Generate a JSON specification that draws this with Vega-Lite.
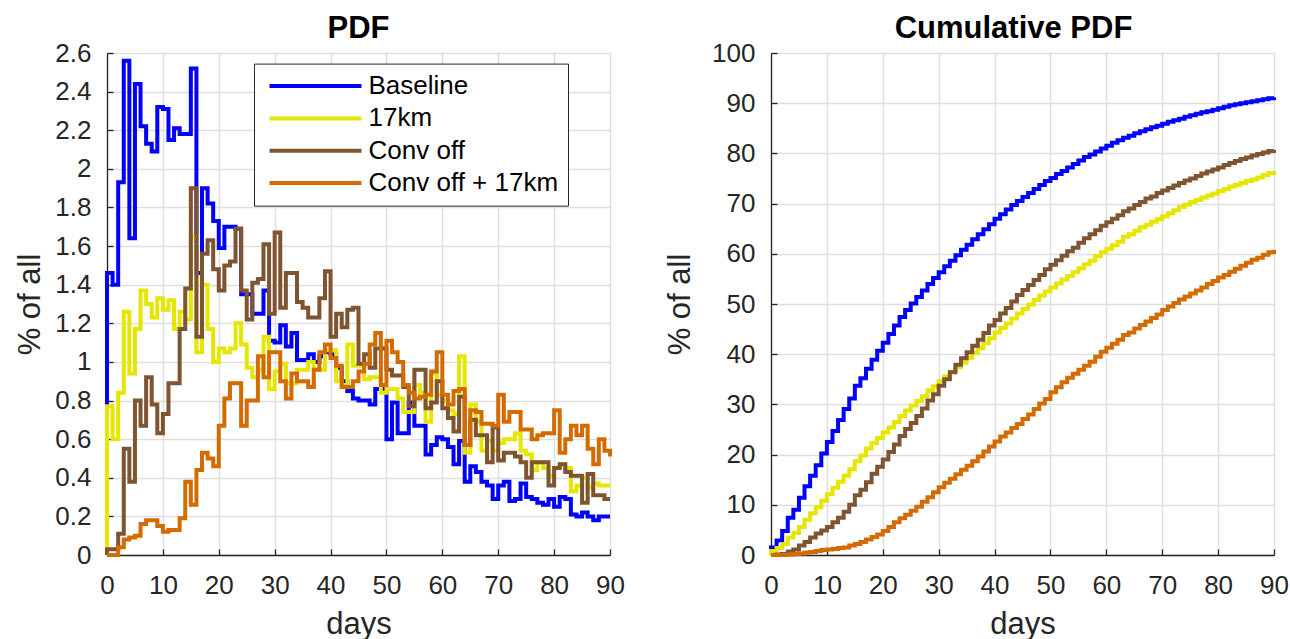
{
"$schema": "https://vega.github.io/schema/vega-lite/v6.json",
"background": "white",
"padding": {"left": 14, "top": 13, "right": 5, "bottom": 0},
"spacing": 39,
"config": {
  "view": {"stroke": null},
  "font": "Liberation Sans",
  "axis": {"domainColor": "#262626", "domainWidth": 1.3, "tickColor": "#262626", "tickWidth": 1.3, "tickSize": -6, "gridColor": "#dfdfdf", "gridWidth": 1.5, "labelFont": "Liberation Sans", "labelFontSize": 26, "labelColor": "#262626", "labelFlush": false, "labelOverlap": false, "titleFont": "Liberation Sans", "titleFontSize": 31, "titleFontWeight": "normal", "titleColor": "#262626"},
  "axisX": {"labelPadding": 23, "titlePadding": 11},
  "axisY": {"labelPadding": 22, "titlePadding": 8},
  "title": {"font": "Liberation Sans", "fontSize": 31, "fontWeight": "bold", "color": "#000000", "offset": -5, "anchor": "middle"},
  "line": {"strokeWidth": 4, "interpolate": "step-after", "strokeJoin": "miter"}
},
"datasets": {
"pdf": [
{"day":0,"run":"Baseline","pct":0},{"day":0,"run":"Baseline","pct":1.46},{"day":1,"run":"Baseline","pct":1.40},{"day":2,"run":"Baseline","pct":1.93},{"day":3,"run":"Baseline","pct":2.56},{"day":4,"run":"Baseline","pct":1.64},{"day":5,"run":"Baseline","pct":2.44},{"day":6,"run":"Baseline","pct":2.22},{"day":7,"run":"Baseline","pct":2.13},{"day":8,"run":"Baseline","pct":2.09},{"day":9,"run":"Baseline","pct":2.32},
{"day":10,"run":"Baseline","pct":2.31},{"day":11,"run":"Baseline","pct":2.15},{"day":12,"run":"Baseline","pct":2.21},{"day":13,"run":"Baseline","pct":2.18},{"day":14,"run":"Baseline","pct":2.18},{"day":15,"run":"Baseline","pct":2.52},{"day":16,"run":"Baseline","pct":1.46},{"day":17,"run":"Baseline","pct":1.90},{"day":18,"run":"Baseline","pct":1.82},{"day":19,"run":"Baseline","pct":1.73},
{"day":20,"run":"Baseline","pct":1.59},{"day":21,"run":"Baseline","pct":1.70},{"day":22,"run":"Baseline","pct":1.70},{"day":23,"run":"Baseline","pct":1.69},{"day":24,"run":"Baseline","pct":1.35},{"day":25,"run":"Baseline","pct":1.35},{"day":26,"run":"Baseline","pct":1.25},{"day":27,"run":"Baseline","pct":1.25},{"day":28,"run":"Baseline","pct":1.37},{"day":29,"run":"Baseline","pct":1.11},
{"day":30,"run":"Baseline","pct":1.10},{"day":31,"run":"Baseline","pct":1.19},{"day":32,"run":"Baseline","pct":1.08},{"day":33,"run":"Baseline","pct":1.15},{"day":34,"run":"Baseline","pct":1.01},{"day":35,"run":"Baseline","pct":1.01},{"day":36,"run":"Baseline","pct":1.04},{"day":37,"run":"Baseline","pct":1.00},{"day":38,"run":"Baseline","pct":1.03},{"day":39,"run":"Baseline","pct":1.05},
{"day":40,"run":"Baseline","pct":1.04},{"day":41,"run":"Baseline","pct":0.97},{"day":42,"run":"Baseline","pct":0.90},{"day":43,"run":"Baseline","pct":0.85},{"day":44,"run":"Baseline","pct":0.81},{"day":45,"run":"Baseline","pct":0.80},{"day":46,"run":"Baseline","pct":0.80},{"day":47,"run":"Baseline","pct":0.78},{"day":48,"run":"Baseline","pct":0.86},{"day":49,"run":"Baseline","pct":0.86},
{"day":50,"run":"Baseline","pct":0.60},{"day":51,"run":"Baseline","pct":0.79},{"day":52,"run":"Baseline","pct":0.63},{"day":53,"run":"Baseline","pct":0.63},{"day":54,"run":"Baseline","pct":0.79},{"day":55,"run":"Baseline","pct":0.67},{"day":56,"run":"Baseline","pct":0.67},{"day":57,"run":"Baseline","pct":0.52},{"day":58,"run":"Baseline","pct":0.57},{"day":59,"run":"Baseline","pct":0.61},
{"day":60,"run":"Baseline","pct":0.60},{"day":61,"run":"Baseline","pct":0.56},{"day":62,"run":"Baseline","pct":0.47},{"day":63,"run":"Baseline","pct":0.59},{"day":64,"run":"Baseline","pct":0.38},{"day":65,"run":"Baseline","pct":0.46},{"day":66,"run":"Baseline","pct":0.43},{"day":67,"run":"Baseline","pct":0.38},{"day":68,"run":"Baseline","pct":0.36},{"day":69,"run":"Baseline","pct":0.29},
{"day":70,"run":"Baseline","pct":0.36},{"day":71,"run":"Baseline","pct":0.38},{"day":72,"run":"Baseline","pct":0.28},{"day":73,"run":"Baseline","pct":0.29},{"day":74,"run":"Baseline","pct":0.37},{"day":75,"run":"Baseline","pct":0.30},{"day":76,"run":"Baseline","pct":0.29},{"day":77,"run":"Baseline","pct":0.27},{"day":78,"run":"Baseline","pct":0.26},{"day":79,"run":"Baseline","pct":0.29},
{"day":80,"run":"Baseline","pct":0.25},{"day":81,"run":"Baseline","pct":0.30},{"day":82,"run":"Baseline","pct":0.29},{"day":83,"run":"Baseline","pct":0.21},{"day":84,"run":"Baseline","pct":0.20},{"day":85,"run":"Baseline","pct":0.22},{"day":86,"run":"Baseline","pct":0.20},{"day":87,"run":"Baseline","pct":0.18},{"day":88,"run":"Baseline","pct":0.20},{"day":89,"run":"Baseline","pct":0.20},{"day":90,"run":"Baseline","pct":0.20},

{"day":0,"run":"17km","pct":0},{"day":0,"run":"17km","pct":0.77},{"day":1,"run":"17km","pct":0.60},{"day":2,"run":"17km","pct":0.84},{"day":3,"run":"17km","pct":1.26},{"day":4,"run":"17km","pct":0.94},{"day":5,"run":"17km","pct":1.17},{"day":6,"run":"17km","pct":1.37},{"day":7,"run":"17km","pct":1.30},{"day":8,"run":"17km","pct":1.23},{"day":9,"run":"17km","pct":1.33},
{"day":10,"run":"17km","pct":1.27},{"day":11,"run":"17km","pct":1.32},{"day":12,"run":"17km","pct":1.17},{"day":13,"run":"17km","pct":1.26},{"day":14,"run":"17km","pct":1.22},{"day":15,"run":"17km","pct":1.65},{"day":16,"run":"17km","pct":1.05},{"day":17,"run":"17km","pct":1.40},{"day":18,"run":"17km","pct":1.17},{"day":19,"run":"17km","pct":1.00},
{"day":20,"run":"17km","pct":1.07},{"day":21,"run":"17km","pct":1.05},{"day":22,"run":"17km","pct":1.07},{"day":23,"run":"17km","pct":1.20},{"day":24,"run":"17km","pct":1.09},{"day":25,"run":"17km","pct":0.97},{"day":26,"run":"17km","pct":0.92},{"day":27,"run":"17km","pct":0.96},{"day":28,"run":"17km","pct":1.13},{"day":29,"run":"17km","pct":0.86},
{"day":30,"run":"17km","pct":0.95},{"day":31,"run":"17km","pct":0.99},{"day":32,"run":"17km","pct":0.89},{"day":33,"run":"17km","pct":0.89},{"day":34,"run":"17km","pct":0.96},{"day":35,"run":"17km","pct":0.96},{"day":36,"run":"17km","pct":1.00},{"day":37,"run":"17km","pct":0.96},{"day":38,"run":"17km","pct":0.96},{"day":39,"run":"17km","pct":1.06},
{"day":40,"run":"17km","pct":1.06},{"day":41,"run":"17km","pct":0.90},{"day":42,"run":"17km","pct":0.88},{"day":43,"run":"17km","pct":1.09},{"day":44,"run":"17km","pct":0.98},{"day":45,"run":"17km","pct":0.98},{"day":46,"run":"17km","pct":0.91},{"day":47,"run":"17km","pct":0.92},{"day":48,"run":"17km","pct":0.92},{"day":49,"run":"17km","pct":0.84},
{"day":50,"run":"17km","pct":0.86},{"day":51,"run":"17km","pct":0.86},{"day":52,"run":"17km","pct":0.81},{"day":53,"run":"17km","pct":0.74},{"day":54,"run":"17km","pct":0.74},{"day":55,"run":"17km","pct":0.88},{"day":56,"run":"17km","pct":0.84},{"day":57,"run":"17km","pct":0.69},{"day":58,"run":"17km","pct":0.94},{"day":59,"run":"17km","pct":0.83},
{"day":60,"run":"17km","pct":0.80},{"day":61,"run":"17km","pct":0.75},{"day":62,"run":"17km","pct":0.73},{"day":63,"run":"17km","pct":1.03},{"day":64,"run":"17km","pct":0.53},{"day":65,"run":"17km","pct":0.78},{"day":66,"run":"17km","pct":0.69},{"day":67,"run":"17km","pct":0.54},{"day":68,"run":"17km","pct":0.59},{"day":69,"run":"17km","pct":0.54},
{"day":70,"run":"17km","pct":0.58},{"day":71,"run":"17km","pct":0.60},{"day":72,"run":"17km","pct":0.60},{"day":73,"run":"17km","pct":0.63},{"day":74,"run":"17km","pct":0.54},{"day":75,"run":"17km","pct":0.52},{"day":76,"run":"17km","pct":0.44},{"day":77,"run":"17km","pct":0.48},{"day":78,"run":"17km","pct":0.45},{"day":79,"run":"17km","pct":0.41},
{"day":80,"run":"17km","pct":0.45},{"day":81,"run":"17km","pct":0.47},{"day":82,"run":"17km","pct":0.45},{"day":83,"run":"17km","pct":0.33},{"day":84,"run":"17km","pct":0.36},{"day":85,"run":"17km","pct":0.40},{"day":86,"run":"17km","pct":0.35},{"day":87,"run":"17km","pct":0.37},{"day":88,"run":"17km","pct":0.36},{"day":89,"run":"17km","pct":0.36},{"day":90,"run":"17km","pct":0.36},

{"day":0,"run":"Conv off","pct":0},{"day":0,"run":"Conv off","pct":0.03},{"day":1,"run":"Conv off","pct":0.03},{"day":2,"run":"Conv off","pct":0.11},{"day":3,"run":"Conv off","pct":0.55},{"day":4,"run":"Conv off","pct":0.38},{"day":5,"run":"Conv off","pct":0.80},{"day":6,"run":"Conv off","pct":0.67},{"day":7,"run":"Conv off","pct":0.92},{"day":8,"run":"Conv off","pct":0.78},{"day":9,"run":"Conv off","pct":0.63},
{"day":10,"run":"Conv off","pct":0.73},{"day":11,"run":"Conv off","pct":0.89},{"day":12,"run":"Conv off","pct":0.89},{"day":13,"run":"Conv off","pct":1.17},{"day":14,"run":"Conv off","pct":1.38},{"day":15,"run":"Conv off","pct":1.90},{"day":16,"run":"Conv off","pct":1.13},{"day":17,"run":"Conv off","pct":1.56},{"day":18,"run":"Conv off","pct":1.63},{"day":19,"run":"Conv off","pct":1.48},
{"day":20,"run":"Conv off","pct":1.37},{"day":21,"run":"Conv off","pct":1.50},{"day":22,"run":"Conv off","pct":1.52},{"day":23,"run":"Conv off","pct":1.69},{"day":24,"run":"Conv off","pct":1.37},{"day":25,"run":"Conv off","pct":1.22},{"day":26,"run":"Conv off","pct":1.41},{"day":27,"run":"Conv off","pct":1.43},{"day":28,"run":"Conv off","pct":1.61},{"day":29,"run":"Conv off","pct":1.25},
{"day":30,"run":"Conv off","pct":1.67},{"day":31,"run":"Conv off","pct":1.28},{"day":32,"run":"Conv off","pct":1.46},{"day":33,"run":"Conv off","pct":1.46},{"day":34,"run":"Conv off","pct":1.31},{"day":35,"run":"Conv off","pct":1.28},{"day":36,"run":"Conv off","pct":1.23},{"day":37,"run":"Conv off","pct":1.23},{"day":38,"run":"Conv off","pct":1.33},{"day":39,"run":"Conv off","pct":1.47},
{"day":40,"run":"Conv off","pct":1.13},{"day":41,"run":"Conv off","pct":1.25},{"day":42,"run":"Conv off","pct":1.18},{"day":43,"run":"Conv off","pct":1.27},{"day":44,"run":"Conv off","pct":1.28},{"day":45,"run":"Conv off","pct":0.99},{"day":46,"run":"Conv off","pct":1.04},{"day":47,"run":"Conv off","pct":0.97},{"day":48,"run":"Conv off","pct":1.07},{"day":49,"run":"Conv off","pct":1.07},
{"day":50,"run":"Conv off","pct":0.96},{"day":51,"run":"Conv off","pct":0.93},{"day":52,"run":"Conv off","pct":0.93},{"day":53,"run":"Conv off","pct":0.87},{"day":54,"run":"Conv off","pct":0.77},{"day":55,"run":"Conv off","pct":0.96},{"day":56,"run":"Conv off","pct":0.96},{"day":57,"run":"Conv off","pct":0.76},{"day":58,"run":"Conv off","pct":0.79},{"day":59,"run":"Conv off","pct":0.90},
{"day":60,"run":"Conv off","pct":0.76},{"day":61,"run":"Conv off","pct":0.71},{"day":62,"run":"Conv off","pct":0.64},{"day":63,"run":"Conv off","pct":0.82},{"day":64,"run":"Conv off","pct":0.57},{"day":65,"run":"Conv off","pct":0.70},{"day":66,"run":"Conv off","pct":0.62},{"day":67,"run":"Conv off","pct":0.62},{"day":68,"run":"Conv off","pct":0.48},{"day":69,"run":"Conv off","pct":0.66},
{"day":70,"run":"Conv off","pct":0.49},{"day":71,"run":"Conv off","pct":0.53},{"day":72,"run":"Conv off","pct":0.53},{"day":73,"run":"Conv off","pct":0.51},{"day":74,"run":"Conv off","pct":0.48},{"day":75,"run":"Conv off","pct":0.40},{"day":76,"run":"Conv off","pct":0.48},{"day":77,"run":"Conv off","pct":0.48},{"day":78,"run":"Conv off","pct":0.48},{"day":79,"run":"Conv off","pct":0.36},
{"day":80,"run":"Conv off","pct":0.45},{"day":81,"run":"Conv off","pct":0.47},{"day":82,"run":"Conv off","pct":0.43},{"day":83,"run":"Conv off","pct":0.41},{"day":84,"run":"Conv off","pct":0.41},{"day":85,"run":"Conv off","pct":0.27},{"day":86,"run":"Conv off","pct":0.42},{"day":87,"run":"Conv off","pct":0.31},{"day":88,"run":"Conv off","pct":0.31},{"day":89,"run":"Conv off","pct":0.29},{"day":90,"run":"Conv off","pct":0.29},

{"day":0,"run":"Conv off + 17km","pct":0},{"day":0,"run":"Conv off + 17km","pct":0},{"day":1,"run":"Conv off + 17km","pct":0},{"day":2,"run":"Conv off + 17km","pct":0.04},{"day":3,"run":"Conv off + 17km","pct":0.08},{"day":4,"run":"Conv off + 17km","pct":0.09},{"day":5,"run":"Conv off + 17km","pct":0.10},{"day":6,"run":"Conv off + 17km","pct":0.16},{"day":7,"run":"Conv off + 17km","pct":0.18},{"day":8,"run":"Conv off + 17km","pct":0.18},{"day":9,"run":"Conv off + 17km","pct":0.15},
{"day":10,"run":"Conv off + 17km","pct":0.12},{"day":11,"run":"Conv off + 17km","pct":0.13},{"day":12,"run":"Conv off + 17km","pct":0.13},{"day":13,"run":"Conv off + 17km","pct":0.19},{"day":14,"run":"Conv off + 17km","pct":0.38},{"day":15,"run":"Conv off + 17km","pct":0.26},{"day":16,"run":"Conv off + 17km","pct":0.44},{"day":17,"run":"Conv off + 17km","pct":0.53},{"day":18,"run":"Conv off + 17km","pct":0.50},{"day":19,"run":"Conv off + 17km","pct":0.46},
{"day":20,"run":"Conv off + 17km","pct":0.67},{"day":21,"run":"Conv off + 17km","pct":0.81},{"day":22,"run":"Conv off + 17km","pct":0.89},{"day":23,"run":"Conv off + 17km","pct":0.89},{"day":24,"run":"Conv off + 17km","pct":0.67},{"day":25,"run":"Conv off + 17km","pct":0.80},{"day":26,"run":"Conv off + 17km","pct":0.80},{"day":27,"run":"Conv off + 17km","pct":1.03},{"day":28,"run":"Conv off + 17km","pct":0.92},{"day":29,"run":"Conv off + 17km","pct":1.05},
{"day":30,"run":"Conv off + 17km","pct":1.05},{"day":31,"run":"Conv off + 17km","pct":0.90},{"day":32,"run":"Conv off + 17km","pct":0.81},{"day":33,"run":"Conv off + 17km","pct":0.94},{"day":34,"run":"Conv off + 17km","pct":0.90},{"day":35,"run":"Conv off + 17km","pct":0.90},{"day":36,"run":"Conv off + 17km","pct":0.87},{"day":37,"run":"Conv off + 17km","pct":0.96},{"day":38,"run":"Conv off + 17km","pct":1.05},{"day":39,"run":"Conv off + 17km","pct":1.09},
{"day":40,"run":"Conv off + 17km","pct":1.02},{"day":41,"run":"Conv off + 17km","pct":0.98},{"day":42,"run":"Conv off + 17km","pct":0.87},{"day":43,"run":"Conv off + 17km","pct":0.87},{"day":44,"run":"Conv off + 17km","pct":0.90},{"day":45,"run":"Conv off + 17km","pct":0.95},{"day":46,"run":"Conv off + 17km","pct":0.99},{"day":47,"run":"Conv off + 17km","pct":1.09},{"day":48,"run":"Conv off + 17km","pct":1.15},{"day":49,"run":"Conv off + 17km","pct":0.88},
{"day":50,"run":"Conv off + 17km","pct":1.11},{"day":51,"run":"Conv off + 17km","pct":1.05},{"day":52,"run":"Conv off + 17km","pct":1.00},{"day":53,"run":"Conv off + 17km","pct":0.88},{"day":54,"run":"Conv off + 17km","pct":0.84},{"day":55,"run":"Conv off + 17km","pct":0.81},{"day":56,"run":"Conv off + 17km","pct":0.82},{"day":57,"run":"Conv off + 17km","pct":0.83},{"day":58,"run":"Conv off + 17km","pct":0.95},{"day":59,"run":"Conv off + 17km","pct":1.05},
{"day":60,"run":"Conv off + 17km","pct":0.83},{"day":61,"run":"Conv off + 17km","pct":0.78},{"day":62,"run":"Conv off + 17km","pct":0.85},{"day":63,"run":"Conv off + 17km","pct":0.86},{"day":64,"run":"Conv off + 17km","pct":0.57},{"day":65,"run":"Conv off + 17km","pct":0.75},{"day":66,"run":"Conv off + 17km","pct":0.74},{"day":67,"run":"Conv off + 17km","pct":0.68},{"day":68,"run":"Conv off + 17km","pct":0.68},{"day":69,"run":"Conv off + 17km","pct":0.67},
{"day":70,"run":"Conv off + 17km","pct":0.83},{"day":71,"run":"Conv off + 17km","pct":0.69},{"day":72,"run":"Conv off + 17km","pct":0.74},{"day":73,"run":"Conv off + 17km","pct":0.74},{"day":74,"run":"Conv off + 17km","pct":0.65},{"day":75,"run":"Conv off + 17km","pct":0.65},{"day":76,"run":"Conv off + 17km","pct":0.60},{"day":77,"run":"Conv off + 17km","pct":0.62},{"day":78,"run":"Conv off + 17km","pct":0.63},{"day":79,"run":"Conv off + 17km","pct":0.63},
{"day":80,"run":"Conv off + 17km","pct":0.75},{"day":81,"run":"Conv off + 17km","pct":0.53},{"day":82,"run":"Conv off + 17km","pct":0.60},{"day":83,"run":"Conv off + 17km","pct":0.67},{"day":84,"run":"Conv off + 17km","pct":0.62},{"day":85,"run":"Conv off + 17km","pct":0.67},{"day":86,"run":"Conv off + 17km","pct":0.55},{"day":87,"run":"Conv off + 17km","pct":0.47},{"day":88,"run":"Conv off + 17km","pct":0.60},{"day":89,"run":"Conv off + 17km","pct":0.54},{"day":90,"run":"Conv off + 17km","pct":0.51}
],
"cdf": [
{"day":0,"run":"Baseline","pct":0},{"day":0,"run":"Baseline","pct":1.5},{"day":1,"run":"Baseline","pct":2.9},{"day":2,"run":"Baseline","pct":4.8},{"day":3,"run":"Baseline","pct":7.4},{"day":4,"run":"Baseline","pct":9.0},{"day":5,"run":"Baseline","pct":11.4},{"day":6,"run":"Baseline","pct":13.7},{"day":7,"run":"Baseline","pct":15.8},{"day":8,"run":"Baseline","pct":17.9},{"day":9,"run":"Baseline","pct":20.2},
{"day":10,"run":"Baseline","pct":22.5},{"day":11,"run":"Baseline","pct":24.7},{"day":12,"run":"Baseline","pct":26.9},{"day":13,"run":"Baseline","pct":29.1},{"day":14,"run":"Baseline","pct":31.2},{"day":15,"run":"Baseline","pct":33.7},{"day":16,"run":"Baseline","pct":35.2},{"day":17,"run":"Baseline","pct":37.1},{"day":18,"run":"Baseline","pct":38.9},{"day":19,"run":"Baseline","pct":40.7},
{"day":20,"run":"Baseline","pct":42.3},{"day":21,"run":"Baseline","pct":44.0},{"day":22,"run":"Baseline","pct":45.7},{"day":23,"run":"Baseline","pct":47.4},{"day":24,"run":"Baseline","pct":48.8},{"day":25,"run":"Baseline","pct":50.1},{"day":26,"run":"Baseline","pct":51.4},{"day":27,"run":"Baseline","pct":52.7},{"day":28,"run":"Baseline","pct":54.0},{"day":29,"run":"Baseline","pct":55.2},
{"day":30,"run":"Baseline","pct":56.3},{"day":31,"run":"Baseline","pct":57.5},{"day":32,"run":"Baseline","pct":58.6},{"day":33,"run":"Baseline","pct":59.7},{"day":34,"run":"Baseline","pct":60.8},{"day":35,"run":"Baseline","pct":61.8},{"day":36,"run":"Baseline","pct":62.9},{"day":37,"run":"Baseline","pct":63.9},{"day":38,"run":"Baseline","pct":64.9},{"day":39,"run":"Baseline","pct":65.9},
{"day":40,"run":"Baseline","pct":67.0},{"day":41,"run":"Baseline","pct":67.9},{"day":42,"run":"Baseline","pct":68.8},{"day":43,"run":"Baseline","pct":69.7},{"day":44,"run":"Baseline","pct":70.5},{"day":45,"run":"Baseline","pct":71.3},{"day":46,"run":"Baseline","pct":72.1},{"day":47,"run":"Baseline","pct":72.9},{"day":48,"run":"Baseline","pct":73.7},{"day":49,"run":"Baseline","pct":74.5},
{"day":50,"run":"Baseline","pct":75.1},{"day":51,"run":"Baseline","pct":75.9},{"day":52,"run":"Baseline","pct":76.5},{"day":53,"run":"Baseline","pct":77.2},{"day":54,"run":"Baseline","pct":77.9},{"day":55,"run":"Baseline","pct":78.6},{"day":56,"run":"Baseline","pct":79.3},{"day":57,"run":"Baseline","pct":79.8},{"day":58,"run":"Baseline","pct":80.4},{"day":59,"run":"Baseline","pct":81.0},
{"day":60,"run":"Baseline","pct":81.5},{"day":61,"run":"Baseline","pct":82.1},{"day":62,"run":"Baseline","pct":82.6},{"day":63,"run":"Baseline","pct":83.1},{"day":64,"run":"Baseline","pct":83.5},{"day":65,"run":"Baseline","pct":84.0},{"day":66,"run":"Baseline","pct":84.4},{"day":67,"run":"Baseline","pct":84.8},{"day":68,"run":"Baseline","pct":85.2},{"day":69,"run":"Baseline","pct":85.5},
{"day":70,"run":"Baseline","pct":85.9},{"day":71,"run":"Baseline","pct":86.3},{"day":72,"run":"Baseline","pct":86.6},{"day":73,"run":"Baseline","pct":86.9},{"day":74,"run":"Baseline","pct":87.3},{"day":75,"run":"Baseline","pct":87.6},{"day":76,"run":"Baseline","pct":87.9},{"day":77,"run":"Baseline","pct":88.2},{"day":78,"run":"Baseline","pct":88.4},{"day":79,"run":"Baseline","pct":88.7},
{"day":80,"run":"Baseline","pct":89.0},{"day":81,"run":"Baseline","pct":89.3},{"day":82,"run":"Baseline","pct":89.6},{"day":83,"run":"Baseline","pct":89.8},{"day":84,"run":"Baseline","pct":90.0},{"day":85,"run":"Baseline","pct":90.2},{"day":86,"run":"Baseline","pct":90.4},{"day":87,"run":"Baseline","pct":90.6},{"day":88,"run":"Baseline","pct":90.8},{"day":89,"run":"Baseline","pct":91.0},{"day":90,"run":"Baseline","pct":91.2},

{"day":0,"run":"17km","pct":0},{"day":0,"run":"17km","pct":0.8},{"day":1,"run":"17km","pct":1.4},{"day":2,"run":"17km","pct":2.2},{"day":3,"run":"17km","pct":3.5},{"day":4,"run":"17km","pct":4.4},{"day":5,"run":"17km","pct":5.6},{"day":6,"run":"17km","pct":7.0},{"day":7,"run":"17km","pct":8.3},{"day":8,"run":"17km","pct":9.5},{"day":9,"run":"17km","pct":10.8},
{"day":10,"run":"17km","pct":12.1},{"day":11,"run":"17km","pct":13.4},{"day":12,"run":"17km","pct":14.6},{"day":13,"run":"17km","pct":15.8},{"day":14,"run":"17km","pct":17.1},{"day":15,"run":"17km","pct":18.7},{"day":16,"run":"17km","pct":19.8},{"day":17,"run":"17km","pct":21.2},{"day":18,"run":"17km","pct":22.3},{"day":19,"run":"17km","pct":23.3},
{"day":20,"run":"17km","pct":24.4},{"day":21,"run":"17km","pct":25.4},{"day":22,"run":"17km","pct":26.5},{"day":23,"run":"17km","pct":27.7},{"day":24,"run":"17km","pct":28.8},{"day":25,"run":"17km","pct":29.8},{"day":26,"run":"17km","pct":30.7},{"day":27,"run":"17km","pct":31.6},{"day":28,"run":"17km","pct":32.8},{"day":29,"run":"17km","pct":33.6},
{"day":30,"run":"17km","pct":34.6},{"day":31,"run":"17km","pct":35.6},{"day":32,"run":"17km","pct":36.5},{"day":33,"run":"17km","pct":37.4},{"day":34,"run":"17km","pct":38.3},{"day":35,"run":"17km","pct":39.3},{"day":36,"run":"17km","pct":40.3},{"day":37,"run":"17km","pct":41.2},{"day":38,"run":"17km","pct":42.2},{"day":39,"run":"17km","pct":43.2},
{"day":40,"run":"17km","pct":44.3},{"day":41,"run":"17km","pct":45.2},{"day":42,"run":"17km","pct":46.1},{"day":43,"run":"17km","pct":47.1},{"day":44,"run":"17km","pct":48.1},{"day":45,"run":"17km","pct":49.0},{"day":46,"run":"17km","pct":49.9},{"day":47,"run":"17km","pct":50.8},{"day":48,"run":"17km","pct":51.7},{"day":49,"run":"17km","pct":52.5},
{"day":50,"run":"17km","pct":53.3},{"day":51,"run":"17km","pct":54.1},{"day":52,"run":"17km","pct":54.9},{"day":53,"run":"17km","pct":55.6},{"day":54,"run":"17km","pct":56.3},{"day":55,"run":"17km","pct":57.1},{"day":56,"run":"17km","pct":57.9},{"day":57,"run":"17km","pct":58.6},{"day":58,"run":"17km","pct":59.5},{"day":59,"run":"17km","pct":60.3},
{"day":60,"run":"17km","pct":61.0},{"day":61,"run":"17km","pct":61.7},{"day":62,"run":"17km","pct":62.4},{"day":63,"run":"17km","pct":63.4},{"day":64,"run":"17km","pct":63.9},{"day":65,"run":"17km","pct":64.6},{"day":66,"run":"17km","pct":65.3},{"day":67,"run":"17km","pct":65.8},{"day":68,"run":"17km","pct":66.4},{"day":69,"run":"17km","pct":66.9},
{"day":70,"run":"17km","pct":67.5},{"day":71,"run":"17km","pct":68.1},{"day":72,"run":"17km","pct":68.7},{"day":73,"run":"17km","pct":69.3},{"day":74,"run":"17km","pct":69.8},{"day":75,"run":"17km","pct":70.3},{"day":76,"run":"17km","pct":70.7},{"day":77,"run":"17km","pct":71.2},{"day":78,"run":"17km","pct":71.6},{"day":79,"run":"17km","pct":72.0},
{"day":80,"run":"17km","pct":72.5},{"day":81,"run":"17km","pct":72.9},{"day":82,"run":"17km","pct":73.4},{"day":83,"run":"17km","pct":73.7},{"day":84,"run":"17km","pct":74.1},{"day":85,"run":"17km","pct":74.5},{"day":86,"run":"17km","pct":74.8},{"day":87,"run":"17km","pct":75.2},{"day":88,"run":"17km","pct":75.7},{"day":89,"run":"17km","pct":76.1},{"day":90,"run":"17km","pct":76.5},

{"day":0,"run":"Conv off","pct":0},{"day":0,"run":"Conv off","pct":0.0},{"day":1,"run":"Conv off","pct":0.1},{"day":2,"run":"Conv off","pct":0.2},{"day":3,"run":"Conv off","pct":0.7},{"day":4,"run":"Conv off","pct":1.1},{"day":5,"run":"Conv off","pct":1.9},{"day":6,"run":"Conv off","pct":2.6},{"day":7,"run":"Conv off","pct":3.5},{"day":8,"run":"Conv off","pct":4.3},{"day":9,"run":"Conv off","pct":4.9},
{"day":10,"run":"Conv off","pct":5.6},{"day":11,"run":"Conv off","pct":6.5},{"day":12,"run":"Conv off","pct":7.4},{"day":13,"run":"Conv off","pct":8.6},{"day":14,"run":"Conv off","pct":10.0},{"day":15,"run":"Conv off","pct":11.9},{"day":16,"run":"Conv off","pct":13.0},{"day":17,"run":"Conv off","pct":14.5},{"day":18,"run":"Conv off","pct":16.2},{"day":19,"run":"Conv off","pct":17.6},
{"day":20,"run":"Conv off","pct":19.0},{"day":21,"run":"Conv off","pct":20.5},{"day":22,"run":"Conv off","pct":22.0},{"day":23,"run":"Conv off","pct":23.7},{"day":24,"run":"Conv off","pct":25.1},{"day":25,"run":"Conv off","pct":26.3},{"day":26,"run":"Conv off","pct":27.7},{"day":27,"run":"Conv off","pct":29.2},{"day":28,"run":"Conv off","pct":30.8},{"day":29,"run":"Conv off","pct":32.0},
{"day":30,"run":"Conv off","pct":33.7},{"day":31,"run":"Conv off","pct":35.0},{"day":32,"run":"Conv off","pct":36.4},{"day":33,"run":"Conv off","pct":37.9},{"day":34,"run":"Conv off","pct":39.2},{"day":35,"run":"Conv off","pct":40.4},{"day":36,"run":"Conv off","pct":41.7},{"day":37,"run":"Conv off","pct":42.9},{"day":38,"run":"Conv off","pct":44.2},{"day":39,"run":"Conv off","pct":45.7},
{"day":40,"run":"Conv off","pct":46.8},{"day":41,"run":"Conv off","pct":48.1},{"day":42,"run":"Conv off","pct":49.2},{"day":43,"run":"Conv off","pct":50.5},{"day":44,"run":"Conv off","pct":51.8},{"day":45,"run":"Conv off","pct":52.8},{"day":46,"run":"Conv off","pct":53.8},{"day":47,"run":"Conv off","pct":54.8},{"day":48,"run":"Conv off","pct":55.8},{"day":49,"run":"Conv off","pct":56.9},
{"day":50,"run":"Conv off","pct":57.8},{"day":51,"run":"Conv off","pct":58.7},{"day":52,"run":"Conv off","pct":59.6},{"day":53,"run":"Conv off","pct":60.5},{"day":54,"run":"Conv off","pct":61.2},{"day":55,"run":"Conv off","pct":62.2},{"day":56,"run":"Conv off","pct":63.1},{"day":57,"run":"Conv off","pct":63.9},{"day":58,"run":"Conv off","pct":64.7},{"day":59,"run":"Conv off","pct":65.6},
{"day":60,"run":"Conv off","pct":66.3},{"day":61,"run":"Conv off","pct":67.0},{"day":62,"run":"Conv off","pct":67.7},{"day":63,"run":"Conv off","pct":68.5},{"day":64,"run":"Conv off","pct":69.0},{"day":65,"run":"Conv off","pct":69.7},{"day":66,"run":"Conv off","pct":70.3},{"day":67,"run":"Conv off","pct":71.0},{"day":68,"run":"Conv off","pct":71.4},{"day":69,"run":"Conv off","pct":72.1},
{"day":70,"run":"Conv off","pct":72.6},{"day":71,"run":"Conv off","pct":73.1},{"day":72,"run":"Conv off","pct":73.6},{"day":73,"run":"Conv off","pct":74.1},{"day":74,"run":"Conv off","pct":74.6},{"day":75,"run":"Conv off","pct":75.0},{"day":76,"run":"Conv off","pct":75.5},{"day":77,"run":"Conv off","pct":76.0},{"day":78,"run":"Conv off","pct":76.4},{"day":79,"run":"Conv off","pct":76.8},
{"day":80,"run":"Conv off","pct":77.2},{"day":81,"run":"Conv off","pct":77.7},{"day":82,"run":"Conv off","pct":78.1},{"day":83,"run":"Conv off","pct":78.5},{"day":84,"run":"Conv off","pct":78.9},{"day":85,"run":"Conv off","pct":79.2},{"day":86,"run":"Conv off","pct":79.6},{"day":87,"run":"Conv off","pct":79.9},{"day":88,"run":"Conv off","pct":80.2},{"day":89,"run":"Conv off","pct":80.5},{"day":90,"run":"Conv off","pct":80.7},

{"day":0,"run":"Conv off + 17km","pct":0},{"day":0,"run":"Conv off + 17km","pct":0},{"day":1,"run":"Conv off + 17km","pct":0},{"day":2,"run":"Conv off + 17km","pct":0.0},{"day":3,"run":"Conv off + 17km","pct":0.1},{"day":4,"run":"Conv off + 17km","pct":0.2},{"day":5,"run":"Conv off + 17km","pct":0.3},{"day":6,"run":"Conv off + 17km","pct":0.5},{"day":7,"run":"Conv off + 17km","pct":0.6},{"day":8,"run":"Conv off + 17km","pct":0.8},{"day":9,"run":"Conv off + 17km","pct":1.0},
{"day":10,"run":"Conv off + 17km","pct":1.1},{"day":11,"run":"Conv off + 17km","pct":1.2},{"day":12,"run":"Conv off + 17km","pct":1.4},{"day":13,"run":"Conv off + 17km","pct":1.5},{"day":14,"run":"Conv off + 17km","pct":1.9},{"day":15,"run":"Conv off + 17km","pct":2.2},{"day":16,"run":"Conv off + 17km","pct":2.6},{"day":17,"run":"Conv off + 17km","pct":3.1},{"day":18,"run":"Conv off + 17km","pct":3.6},{"day":19,"run":"Conv off + 17km","pct":4.1},
{"day":20,"run":"Conv off + 17km","pct":4.8},{"day":21,"run":"Conv off + 17km","pct":5.6},{"day":22,"run":"Conv off + 17km","pct":6.5},{"day":23,"run":"Conv off + 17km","pct":7.3},{"day":24,"run":"Conv off + 17km","pct":8.0},{"day":25,"run":"Conv off + 17km","pct":8.8},{"day":26,"run":"Conv off + 17km","pct":9.6},{"day":27,"run":"Conv off + 17km","pct":10.6},{"day":28,"run":"Conv off + 17km","pct":11.5},{"day":29,"run":"Conv off + 17km","pct":12.5},
{"day":30,"run":"Conv off + 17km","pct":13.5},{"day":31,"run":"Conv off + 17km","pct":14.4},{"day":32,"run":"Conv off + 17km","pct":15.2},{"day":33,"run":"Conv off + 17km","pct":16.1},{"day":34,"run":"Conv off + 17km","pct":17.0},{"day":35,"run":"Conv off + 17km","pct":17.8},{"day":36,"run":"Conv off + 17km","pct":18.7},{"day":37,"run":"Conv off + 17km","pct":19.6},{"day":38,"run":"Conv off + 17km","pct":20.6},{"day":39,"run":"Conv off + 17km","pct":21.6},
{"day":40,"run":"Conv off + 17km","pct":22.6},{"day":41,"run":"Conv off + 17km","pct":23.6},{"day":42,"run":"Conv off + 17km","pct":24.4},{"day":43,"run":"Conv off + 17km","pct":25.3},{"day":44,"run":"Conv off + 17km","pct":26.1},{"day":45,"run":"Conv off + 17km","pct":27.1},{"day":46,"run":"Conv off + 17km","pct":28.0},{"day":47,"run":"Conv off + 17km","pct":29.1},{"day":48,"run":"Conv off + 17km","pct":30.2},{"day":49,"run":"Conv off + 17km","pct":31.1},
{"day":50,"run":"Conv off + 17km","pct":32.4},{"day":51,"run":"Conv off + 17km","pct":33.4},{"day":52,"run":"Conv off + 17km","pct":34.4},{"day":53,"run":"Conv off + 17km","pct":35.3},{"day":54,"run":"Conv off + 17km","pct":36.1},{"day":55,"run":"Conv off + 17km","pct":36.9},{"day":56,"run":"Conv off + 17km","pct":37.7},{"day":57,"run":"Conv off + 17km","pct":38.5},{"day":58,"run":"Conv off + 17km","pct":39.5},{"day":59,"run":"Conv off + 17km","pct":40.5},
{"day":60,"run":"Conv off + 17km","pct":41.3},{"day":61,"run":"Conv off + 17km","pct":42.1},{"day":62,"run":"Conv off + 17km","pct":42.9},{"day":63,"run":"Conv off + 17km","pct":43.8},{"day":64,"run":"Conv off + 17km","pct":44.3},{"day":65,"run":"Conv off + 17km","pct":45.1},{"day":66,"run":"Conv off + 17km","pct":45.8},{"day":67,"run":"Conv off + 17km","pct":46.5},{"day":68,"run":"Conv off + 17km","pct":47.2},{"day":69,"run":"Conv off + 17km","pct":47.9},
{"day":70,"run":"Conv off + 17km","pct":48.8},{"day":71,"run":"Conv off + 17km","pct":49.5},{"day":72,"run":"Conv off + 17km","pct":50.2},{"day":73,"run":"Conv off + 17km","pct":50.9},{"day":74,"run":"Conv off + 17km","pct":51.5},{"day":75,"run":"Conv off + 17km","pct":52.1},{"day":76,"run":"Conv off + 17km","pct":52.7},{"day":77,"run":"Conv off + 17km","pct":53.3},{"day":78,"run":"Conv off + 17km","pct":54.0},{"day":79,"run":"Conv off + 17km","pct":54.6},
{"day":80,"run":"Conv off + 17km","pct":55.3},{"day":81,"run":"Conv off + 17km","pct":55.8},{"day":82,"run":"Conv off + 17km","pct":56.4},{"day":83,"run":"Conv off + 17km","pct":57.0},{"day":84,"run":"Conv off + 17km","pct":57.6},{"day":85,"run":"Conv off + 17km","pct":58.2},{"day":86,"run":"Conv off + 17km","pct":58.8},{"day":87,"run":"Conv off + 17km","pct":59.2},{"day":88,"run":"Conv off + 17km","pct":59.8},{"day":89,"run":"Conv off + 17km","pct":60.3},{"day":90,"run":"Conv off + 17km","pct":60.8}
]
},
"hconcat": [
{
  "width": 503, "height": 502,
  "title": {"text": "PDF"},
  "data": {"name": "pdf"},
  "mark": {"type": "line"},
  "encoding": {
    "x": {"field": "day", "type": "quantitative", "scale": {"domain": [0, 90], "nice": false}, "axis": {"values": [0,10,20,30,40,50,60,70,80,90], "title": "days"}},
    "y": {"field": "pct", "type": "quantitative", "scale": {"domain": [0, 2.6], "nice": false}, "axis": {"values": [0,0.2,0.4,0.6,0.8,1,1.2,1.4,1.6,1.8,2,2.2,2.4,2.6], "format": "~g", "title": "% of all"}},
    "color": {"field": "run", "type": "nominal", "sort": null,
      "scale": {"domain": ["Baseline", "17km", "Conv off", "Conv off + 17km"], "range": ["#0000ff", "#e6e600", "#7e5431", "#d46b00"]},
      "legend": {"orient": "none", "legendX": 147, "legendY": 10.6, "title": null, "symbolType": "M-9.2,0H9.2", "symbolSize": 100, "symbolStrokeWidth": 4, "labelFont": "Liberation Sans", "labelFontSize": 26, "labelColor": "#000000", "strokeColor": "#262626", "fillColor": "#ffffff", "padding": 9.5, "rowPadding": 6.3, "symbolOffset": 39, "labelOffset": 40, "labelLimit": 400}
    }
  }
},
{
  "width": 503, "height": 502,
  "title": {"text": "Cumulative PDF", "dx": -9},
  "data": {"name": "cdf"},
  "mark": {"type": "line"},
  "encoding": {
    "x": {"field": "day", "type": "quantitative", "scale": {"domain": [0, 90], "nice": false}, "axis": {"values": [0,10,20,30,40,50,60,70,80,90], "title": "days"}},
    "y": {"field": "pct", "type": "quantitative", "scale": {"domain": [0, 100], "nice": false}, "axis": {"values": [0,10,20,30,40,50,60,70,80,90,100], "title": "% of all", "titlePadding": 15}},
    "color": {"field": "run", "type": "nominal", "sort": null,
      "scale": {"domain": ["Baseline", "17km", "Conv off", "Conv off + 17km"], "range": ["#0000ff", "#e6e600", "#7e5431", "#d46b00"]},
      "legend": null
    }
  }
}
]
}
